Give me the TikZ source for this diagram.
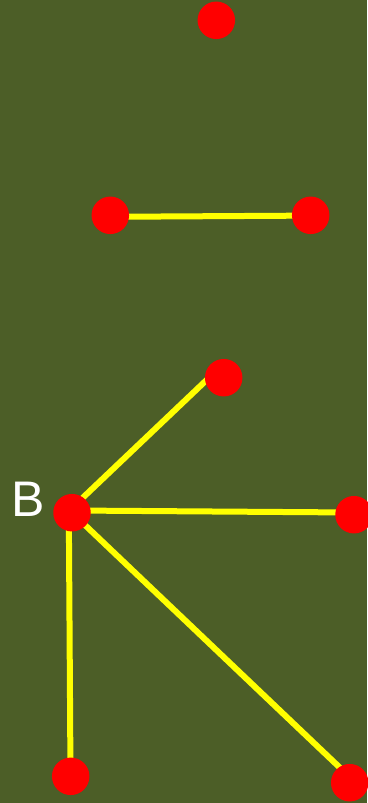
\documentclass[tikz,border=0pt]{standalone}
\usepackage{fontspec}
\setmainfont{Liberation Sans}
\definecolor{bgolive}{RGB}{76,94,39}
\definecolor{dotred}{RGB}{255,0,0}
\definecolor{edgeyellow}{RGB}{255,255,0}
\tikzset{
  vert/.style={circle, fill=dotred, draw=none, minimum size=37.5pt, inner sep=0pt},
  edge/.style={draw=edgeyellow, line width=6pt},
  vlabel/.style={text=white, font=\fontsize{50}{50}\selectfont, inner sep=0pt}
}
\begin{document}
\begin{tikzpicture}[x=1pt, y=-1pt]
  \fill[bgolive] (0,0) rectangle (367,803);
  \useasboundingbox (0,0) rectangle (367,803);
  % vertex centres
  \coordinate (a) at (216.3,20.3);
  \coordinate (c) at (110.3,215.3);
  \coordinate (d) at (310.7,215.3);
  \coordinate (e) at (223.7,377.7);
  \coordinate (b) at (72,512.7);
  \coordinate (f) at (354,514.7);
  \coordinate (g) at (70.7,776.3);
  \coordinate (h) at (349.7,782.7);
  % edge end points (hidden under the dots)
  \coordinate (c1) at (110.3,216.8);
  \coordinate (d1) at (310.7,215.6);
  \coordinate (be) at (72,508);
  \coordinate (e1) at (215,372);
  \coordinate (bf) at (72,510.5);
  \coordinate (f1) at (354,512.5);
  \coordinate (bg) at (68.8,512);
  \coordinate (g1) at (70.5,776);
  \coordinate (h1) at (349.7,777);
  % edges
  \draw[edge] (c1) -- (d1);
  \draw[edge] (be) -- (e1);
  \draw[edge] (bf) -- (f1);
  \draw[edge] (bg) -- (g1);
  \draw[edge] (b) -- (h1);
  % dots
  \foreach \v in {a,c,d,e,b,f,g,h} \node[vert] (n\v) at (\v) {};
  \node[vlabel, anchor=base] (lb) at (28.3,516.7) {B};
\end{tikzpicture}
\end{document}
